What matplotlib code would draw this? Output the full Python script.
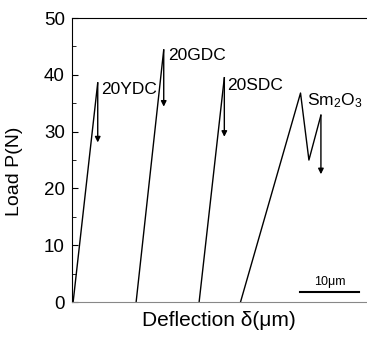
import matplotlib
matplotlib.use("Agg")
import matplotlib.pyplot as plt
from matplotlib.ticker import MultipleLocator

plt.rcParams['font.family'] = ['Liberation Sans', 'DejaVu Sans']
plt.rcParams['mathtext.default'] = 'regular'

# curves: deflection (um) and load (N)
ydc_x = [0.2, 4.3]
ydc_y = [0.0, 38.6]
gdc_x = [10.7, 15.3]
gdc_y = [0.0, 44.4]
sdc_x = [21.2, 25.4]
sdc_y = [0.0, 39.5]
sm_x = [28.1, 38.1, 39.5, 41.5]
sm_y = [0.0, 36.8, 25.0, 32.9]

# arrow tips (load at the end of each drop)
arrow_ends = [28.1, 34.4, 29.1, 22.5]
labels = ['20YDC', '20GDC', '20SDC', 'Sm$_2$O$_3$']
label_pos = [(4.8, 36.6), (16.0, 42.6), (25.8, 37.4), (39.1, 34.7)]

scale_bar = [38.0, 47.8]

fig = plt.figure(figsize=(3.67, 3.38), dpi=100)
ax = fig.add_axes([0.196, 0.1065, 0.8174, 0.840])

curves = [(ydc_x, ydc_y), (gdc_x, gdc_y), (sdc_x, sdc_y), (sm_x, sm_y)]
for (cx, cy), tip, lab, (lx, ly) in zip(curves, arrow_ends, labels, label_pos):
    ax.plot(cx, cy, color='black', lw=1.0)
    ax.annotate('', xy=(cx[-1], tip), xytext=(cx[-1], cy[-1]),
                arrowprops=dict(arrowstyle='-|>', color='black', lw=1.0,
                                mutation_scale=8, shrinkA=0, shrinkB=0))
    ax.text(lx, ly, lab, fontsize=12.5, ha='left', va='baseline')

# scale bar
ax.plot(scale_bar, [1.7, 1.7], color='black', lw=1.5)
ax.text(sum(scale_bar) / 2, 3.0, '10\u03bcm', fontsize=9, ha='center', va='baseline')

ax.set_xlim(0, 50)
ax.set_ylim(0, 50)
ax.set_xticks([])
ax.yaxis.set_major_locator(MultipleLocator(10))
ax.yaxis.set_minor_locator(MultipleLocator(5))
ax.tick_params(axis='y', which='both', direction='in', labelsize=13.5, pad=5)
ax.tick_params(axis='y', which='major', length=4)
ax.tick_params(axis='y', which='minor', length=3)

ax.spines['right'].set_visible(False)
ax.spines['bottom'].set_color('#888888')

ax.set_ylabel('Load P(N)', fontsize=14)
ax.yaxis.set_label_coords(-0.163, 0.46)
ax.set_xlabel('Deflection \u03b4(\u03bcm)', fontsize=15)
ax.xaxis.set_label_coords(0.49, -0.03)

fig.savefig('out.png', dpi=100)
